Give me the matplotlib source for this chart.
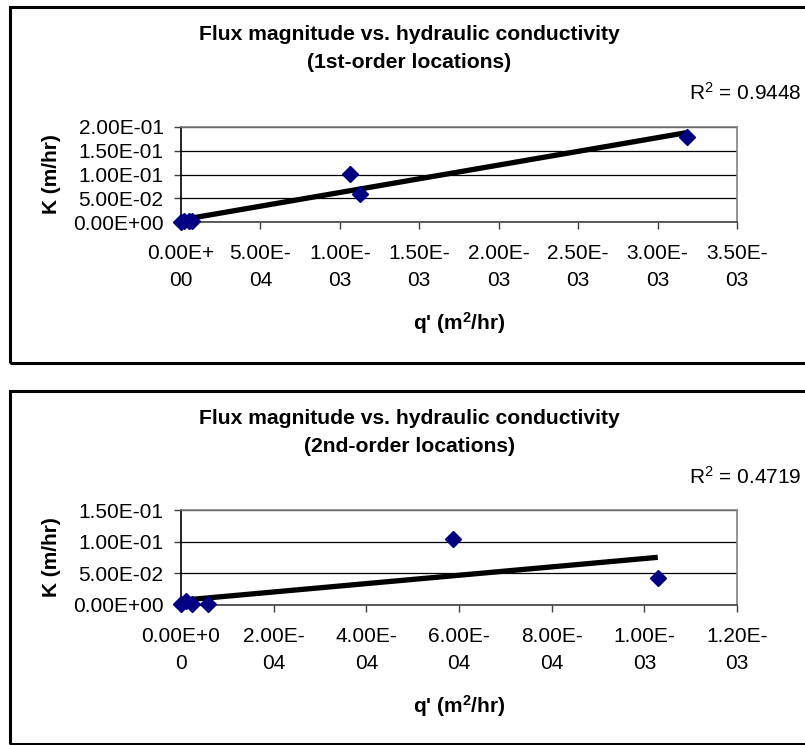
import numpy as np
import matplotlib
matplotlib.use("Agg")
import matplotlib.pyplot as plt
from matplotlib.patches import Rectangle

plt.rcParams['font.family'] = ['Liberation Sans', 'DejaVu Sans']
plt.rcParams['mathtext.fontset'] = 'custom'
plt.rcParams['mathtext.rm'] = 'Liberation Sans'
plt.rcParams['mathtext.it'] = 'Liberation Sans:italic'
plt.rcParams['mathtext.bf'] = 'Liberation Sans:bold'

# 1st-order locations: flux magnitude q' (m^2/hr) and conductivity K (m/hr)
q_first = [0.0, 2.0e-5, 5.0e-5, 7.0e-5, 1.061e-3, 1.126e-3, 3.184e-3]
k_first = [0.001, 0.002, 0.003, 0.002, 0.101, 0.060, 0.180]
r2_first = "0.9448"
xticks_first = [0.0, 5e-4, 1e-3, 1.5e-3, 2e-3, 2.5e-3, 3e-3, 3.5e-3]
xlabels_first = ["0.00E+\n00", "5.00E-\n04", "1.00E-\n03", "1.50E-\n03",
                 "2.00E-\n03", "2.50E-\n03", "3.00E-\n03", "3.50E-\n03"]
yticks_first = [0.0, 0.05, 0.10, 0.15, 0.20]
ylabels_first = ["0.00E+00", "5.00E-02", "1.00E-01", "1.50E-01", "2.00E-01"]

# 2nd-order locations
q_second = [0.0, 1.0e-5, 2.3e-5, 5.9e-5, 5.87e-4, 1.029e-3]
k_second = [0.001, 0.006, 0.001, 0.002, 0.104, 0.043]
r2_second = "0.4719"
xticks_second = [0.0, 2e-4, 4e-4, 6e-4, 8e-4, 1.0e-3, 1.2e-3]
xlabels_second = ["0.00E+0\n0", "2.00E-\n04", "4.00E-\n04", "6.00E-\n04",
                  "8.00E-\n04", "1.00E-\n03", "1.20E-\n03"]
yticks_second = [0.0, 0.05, 0.10, 0.15]
ylabels_second = ["0.00E+00", "5.00E-02", "1.00E-01", "1.50E-01"]

W, H = 805, 745
fig = plt.figure(figsize=(W / 100, H / 100), dpi=100)

TICK_FS = 15
TITLE_FS = 15.2


def fx(px):
    return px / W


def fy(py):
    return 1 - py / H


def panel(box_top, box_bottom, ax_top, ax_bottom, title2, q, k, r2,
          xt, xl, yt, yl):
    # chart frame
    fig.add_artist(Rectangle((fx(10), fy(box_bottom)), fx(820 - 10),
                             (box_bottom - box_top) / H, transform=fig.transFigure,
                             fill=False, edgecolor='black', linewidth=2.2))
    ax = fig.add_axes([fx(181), fy(ax_bottom), fx(737 - 181), (ax_bottom - ax_top) / H])
    ax.set_xlim(xt[0], xt[-1])
    ax.set_ylim(yt[0], yt[-1])
    ax.set_xticks(xt)
    ax.set_xticklabels(xl, fontsize=TICK_FS, linespacing=1.5)
    ax.set_yticks(yt)
    ax.set_yticklabels(yl, fontsize=TICK_FS)
    ax.tick_params(axis='x', direction='out', length=5, width=1, color='#404040', pad=11)
    ax.tick_params(axis='y', direction='out', length=5, width=1, color='#404040', pad=7.5)
    ax.yaxis.grid(True, color='black', linewidth=0.9)
    ax.set_axisbelow(True)
    ax.spines['left'].set_color('black')
    ax.spines['bottom'].set_color('#404040')
    ax.spines['top'].set_color('#808080')
    ax.spines['right'].set_color('#808080')
    for s in ax.spines.values():
        s.set_linewidth(1.2)

    # linear trend line over the data range
    q_arr = np.asarray(q)
    k_arr = np.asarray(k)
    slope, intercept = np.polyfit(q_arr, k_arr, 1)
    xs = np.array([q_arr.min(), q_arr.max()])
    ax.plot(xs, slope * xs + intercept, color='black', linewidth=3.8,
            solid_capstyle='butt', zorder=3, clip_on=False)
    ax.plot(q_arr, k_arr, linestyle='none', marker='D', markersize=8.5,
            color='#000080', zorder=4, clip_on=False)

    fig.text(fx(409), fy(box_top + 27), "Flux magnitude vs. hydraulic conductivity",
             ha='center', va='center', fontsize=TITLE_FS, fontweight='bold')
    fig.text(fx(409), fy(box_top + 55), title2,
             ha='center', va='center', fontsize=TITLE_FS, fontweight='bold')
    fig.text(fx(802), fy(box_top + 86), "R$^{2}$ = " + r2,
             ha='right', va='center', fontsize=TICK_FS)
    fig.text(fx(51), fy((ax_top + ax_bottom) / 2), "K (m/hr)", rotation=90,
             ha='center', va='center', fontsize=TICK_FS, fontweight='bold')
    fig.text(fx(459), fy(ax_bottom + 101), "q' (m$^{\\mathbf{2}}$/hr)",
             ha='center', va='center', fontsize=TICK_FS, fontweight='bold')
    return ax


panel(7, 363, 127, 222, "(1st-order locations)", q_first, k_first, r2_first,
      xticks_first, xlabels_first, yticks_first, ylabels_first)
panel(391, 744, 510, 605, "(2nd-order locations)", q_second, k_second, r2_second,
      xticks_second, xlabels_second, yticks_second, ylabels_second)

fig.savefig("out.png", dpi=100)
